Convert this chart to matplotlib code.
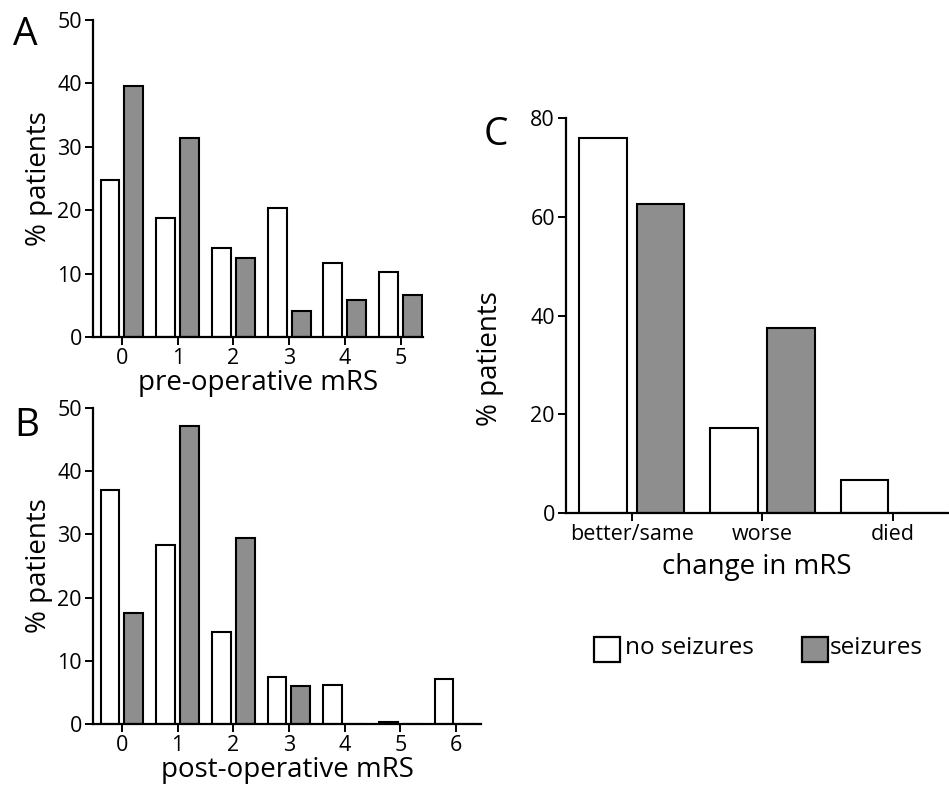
import numpy as np
import matplotlib
matplotlib.use("Agg")
import matplotlib.pyplot as plt
from matplotlib.patches import Rectangle

plt.rcParams['font.family'] = ['Open Sans', 'DejaVu Sans']

# panel A: pre-operative mRS
pre_mrs = [0, 1, 2, 3, 4, 5]
pre_no_seiz = [24.7, 18.8, 14.1, 20.4, 11.7, 10.2]
pre_seiz = [39.6, 31.4, 12.4, 4.1, 5.8, 6.6]

# panel B: post-operative mRS
post_mrs = [0, 1, 2, 3, 4, 5, 6]
post_no_seiz = [37.1, 28.4, 14.6, 7.4, 6.1, 0.3, 7.1]
post_seiz = [17.6, 47.2, 29.5, 6.0, 0, 0, 0]

# panel C: change in mRS
change_cats = ['better/same', 'worse', 'died']
change_no_seiz = [76.0, 17.2, 6.7]
change_seiz = [62.5, 37.5, 0]

GRAY = '#8e8e8e'
TICK_FS = 15.5
LABEL_FS = 20
LETTER_FS = 28
W, H = 949, 785
fig = plt.figure(figsize=(W / 100, H / 100), dpi=100)


def px_axes(l, t, r, b):
    return fig.add_axes([l / W, 1 - b / H, (r - l) / W, (b - t) / H])


def style(ax):
    for s in ['top', 'right']:
        ax.spines[s].set_visible(False)
    for s in ['left', 'bottom']:
        ax.spines[s].set_linewidth(1.6)
    ax.tick_params(axis='both', width=1.4, length=6, labelsize=TICK_FS, pad=2)


def paired_bars(ax, x, a, b, width, off):
    x = np.asarray(x, dtype=float)
    ax.bar(x - off, a, width, color='white', edgecolor='black', linewidth=1.5)
    ax.bar(x + off, b, width, color=GRAY, edgecolor='black', linewidth=1.5)


# A
axA = px_axes(93, 20, 423, 337)
paired_bars(axA, pre_mrs, pre_no_seiz, pre_seiz, 0.34, 0.215)
axA.set_xlim(-0.52, 5.4)
axA.set_ylim(0, 50)
axA.set_yticks([0, 10, 20, 30, 40, 50])
axA.set_xticks(pre_mrs)
style(axA)
axA.set_xlabel('pre-operative mRS', fontsize=LABEL_FS, labelpad=0)
axA.set_ylabel('% patients', fontsize=LABEL_FS, labelpad=3)
fig.text(13 / W, 1 - 45 / H, 'A', fontsize=LETTER_FS, va='baseline')

# B
axB = px_axes(93, 408, 481, 724)
paired_bars(axB, post_mrs, post_no_seiz, post_seiz, 0.34, 0.215)
axB.set_xlim(-0.52, 6.45)
axB.set_ylim(0, 50)
axB.set_yticks([0, 10, 20, 30, 40, 50])
axB.set_xticks(post_mrs)
style(axB)
axB.set_xlabel('post-operative mRS', fontsize=LABEL_FS, labelpad=0)
axB.set_ylabel('% patients', fontsize=LABEL_FS, labelpad=3)
fig.text(14 / W, 1 - 436 / H, 'B', fontsize=LETTER_FS, va='baseline')

# C
axC = px_axes(566, 118, 948, 513)
paired_bars(axC, range(len(change_cats)), change_no_seiz, change_seiz, 0.365, 0.22)
axC.set_xlim(-0.503, 2.42)
axC.set_ylim(0, 80)
axC.set_yticks([0, 20, 40, 60, 80])
axC.set_xticks(range(len(change_cats)))
axC.set_xticklabels(change_cats)
style(axC)
axC.set_xlabel('change in mRS', fontsize=LABEL_FS, labelpad=6)
axC.set_ylabel('% patients', fontsize=LABEL_FS)
axC.yaxis.set_label_coords(-0.162, 0.392)
fig.text(484 / W, 1 - 145 / H, 'C', fontsize=LETTER_FS, va='baseline')

# legend: boxes and text in figure pixels
LEG_FS = 17.5
fig.patches.append(Rectangle((594 / W, 1 - 662 / H), 26 / W, 25 / H, transform=fig.transFigure,
                             facecolor='white', edgecolor='black', linewidth=1.6))
fig.text(625 / W, 1 - 648 / H, 'no seizures', fontsize=LEG_FS, va='center')
fig.patches.append(Rectangle((802 / W, 1 - 662 / H), 26 / W, 25 / H, transform=fig.transFigure,
                             facecolor=GRAY, edgecolor='black', linewidth=1.6))
fig.text(830 / W, 1 - 648 / H, 'seizures', fontsize=LEG_FS, va='center')

fig.savefig('out.png', dpi=100)
